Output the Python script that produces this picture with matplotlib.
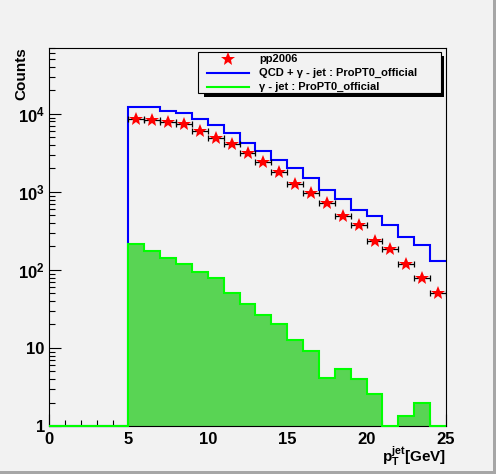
import numpy as np
import matplotlib
matplotlib.use('Agg')
import matplotlib.pyplot as plt
from matplotlib.patches import Rectangle
from matplotlib.lines import Line2D
from matplotlib.ticker import MultipleLocator, LogLocator, FuncFormatter, NullFormatter

plt.rcParams['font.family'] = ['Liberation Sans', 'DejaVu Sans']
plt.rcParams['font.weight'] = 'bold'
plt.rcParams['mathtext.fontset'] = 'custom'
plt.rcParams['mathtext.rm'] = 'Liberation Sans:bold'
plt.rcParams['mathtext.bf'] = 'Liberation Sans:bold'
plt.rcParams['mathtext.it'] = 'Liberation Sans:bold'

# 1 GeV bins from 0 to 25 GeV
bin_edges = np.arange(0, 26, 1)
# QCD + gamma-jet simulation (blue)
qcd_gamma = [0, 0, 0, 0, 0, 12150, 12100, 10790, 10180, 8530, 7150, 5650, 4290,
             3390, 2600, 2010, 1530, 1052, 807, 583, 489, 375, 263, 208, 132]
# gamma-jet simulation only (green)
gamma_jet = [0, 0, 0, 0, 0, 214, 174, 142, 119, 93, 78, 51, 36.5,
             26.7, 20.2, 12.6, 9.1, 4.1, 5.4, 4.0, 2.6, 0, 1.35, 1.98, 0]
# pp2006 data points
pp2006_pt = [5.5, 6.5, 7.5, 8.5, 9.5, 10.5, 11.5, 12.5, 13.5, 14.5,
             15.5, 16.5, 17.5, 18.5, 19.5, 20.5, 21.5, 22.5, 23.5, 24.5]
pp2006 = [8630, 8450, 7970, 7450, 5990, 4930, 4130, 3130, 2400, 1787,
          1270, 962, 717, 499, 375, 232, 183, 119, 78.5, 50.5]

bg = '#f2f2f2'
ymin, ymax = 1, 7e4

fig = plt.figure(figsize=(4.96, 4.74), dpi=100, facecolor=bg)
ax = fig.add_axes([49/496, 48/474, 397/496, 378/474])
ax.set_facecolor(bg)
ax.set_yscale('log')

# empty bins are drawn on the bottom of the frame, like ROOT does
ax.stairs(np.clip(qcd_gamma, ymin, None), bin_edges, baseline=None,
          color='#0000ff', lw=1.5, clip_on=False, zorder=2.1)
ax.stairs(np.clip(gamma_jet, ymin, None), bin_edges, baseline=ymin, fill=True,
          facecolor='#59d454', edgecolor='none', lw=0, zorder=2.2)
ax.stairs(np.clip(gamma_jet, ymin, None), bin_edges, baseline=None,
          color='#00ff00', lw=1.5, clip_on=False, zorder=2.8)

ax.errorbar(pp2006_pt, pp2006, xerr=0.5, fmt='none', ecolor='k',
            elinewidth=0.9, capsize=2, capthick=0.9, zorder=3)
ax.plot(pp2006_pt, pp2006, ls='none', marker='*', ms=10.5, color='#ff0000',
        mew=0, zorder=4)

ax.set_xlim(0, 25)
ax.set_ylim(ymin, ymax)
ax.xaxis.set_major_locator(MultipleLocator(5))
ax.xaxis.set_minor_locator(MultipleLocator(1))
ax.yaxis.set_major_locator(LogLocator(base=10, numticks=10))
ax.yaxis.set_minor_locator(LogLocator(base=10, subs=np.arange(2, 10), numticks=20))
ax.yaxis.set_minor_formatter(NullFormatter())


def ylab(v, pos):
    if v < 5:
        return '1'
    if v < 50:
        return '10'
    return r'$\mathbf{10^{%d}}$' % round(np.log10(v))


ax.yaxis.set_major_formatter(FuncFormatter(ylab))
ax.tick_params(which='both', direction='in', top=False, right=False,
               labelsize=12, width=0.8)
ax.tick_params(which='major', length=8.5)
ax.tick_params(which='minor', length=4.3)
ax.tick_params(axis='x', pad=4)
ax.tick_params(axis='y', pad=3)
for s in ax.spines.values():
    s.set_linewidth(0.8)

# legend box with ROOT-like shadow
ax.add_patch(Rectangle((0.390, 0.871), 0.606, 0.108, transform=ax.transAxes,
                       facecolor='k', edgecolor='none', clip_on=False, zorder=5))
ax.add_patch(Rectangle((0.375, 0.881), 0.612, 0.108, transform=ax.transAxes,
                       facecolor=bg, edgecolor='k', lw=0.8, clip_on=False, zorder=6))
ax.add_line(Line2D([0.451], [0.971], transform=ax.transAxes, ls='none', marker='*',
                   ms=10.5, color='#ff0000', mew=0, clip_on=False, zorder=7))
ax.add_line(Line2D([0.397, 0.505], [0.933, 0.933], transform=ax.transAxes,
                   color='#0000ff', lw=1.5, clip_on=False, zorder=7))
ax.add_line(Line2D([0.397, 0.505], [0.898, 0.898], transform=ax.transAxes,
                   color='#00ff00', lw=1.5, clip_on=False, zorder=7))
labels = ['pp2006', 'QCD + γ - jet : ProPT0_official', 'γ - jet : ProPT0_official']
for lab, yy in zip(labels, [0.971, 0.933, 0.898]):
    ax.text(0.529, yy, lab, transform=ax.transAxes, fontsize=8, va='center',
            ha='left', zorder=7)

fig.text(21/496, 1 - 47/474, 'Counts', rotation=90, ha='center', va='top', fontsize=11)
fig.text(446/496, 1 - 462/474, r'$\mathbf{p}_{\mathbf{T}}^{\mathbf{jet}}$[GeV]',
         ha='right', va='baseline', fontsize=11)

# canvas border
fig.add_artist(Rectangle((493/496, 0), 3/496, 1, transform=fig.transFigure,
                         color='#a6a6a6', lw=0))
fig.add_artist(Rectangle((0, 0), 1, 3/474, transform=fig.transFigure,
                         color='#a6a6a6', lw=0))

fig.savefig('out.png', dpi=100, facecolor=bg)
